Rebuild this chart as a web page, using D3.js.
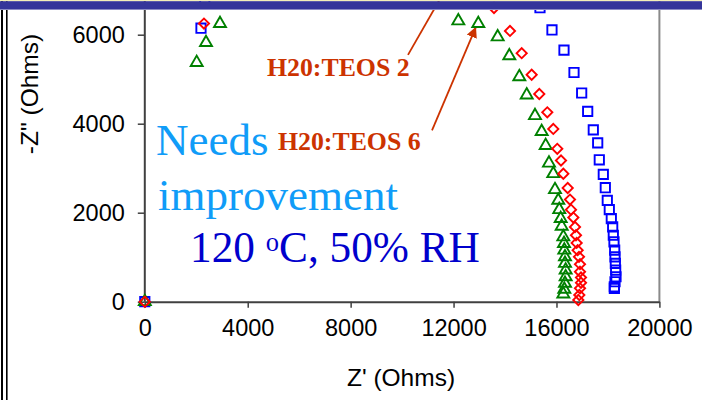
<!DOCTYPE html>
<html><head><meta charset="utf-8">
<script src="https://cdn.jsdelivr.net/npm/d3@7"></script>
<style>html,body{margin:0;padding:0;background:#fff;}svg{display:block;}</style>
</head><body>
<svg id="c" width="702" height="400"></svg>
<script>
// ---- data ----
const xTicks = [0, 4000, 8000, 12000, 16000, 20000];
const yTicks = [0, 2000, 4000, 6000];
const xLabel = "Z' (Ohms)";
const yLabel = '-Z" (Ohms)';

const blueX = [0, 2184, 2330, 15359, 15825, 16292, 16681, 16979, 17213, 17431, 17602, 17664, 17820, 17898, 17975, 18053, 18131, 18184, 18209, 18235, 18262, 18275, 18288, 18300, 18313, 18275, 18248, 18250];
const blueY = [0, 6146, 6700, 6607, 6107, 5653, 5151, 4690, 4278, 3861, 3570, 3189, 2860, 2562, 2278, 2069, 1868, 1680, 1494, 1344, 1158, 1008, 860, 710, 560, 448, 336, 300];

const redX = [0, 2300, 13572, 14193, 14648, 15036, 15332, 15643, 15876, 16031, 16176, 16266, 16436, 16525, 16564, 16655, 16720, 16758, 16784, 16823, 16875, 16914, 16914, 16953, 16953, 16914, 16888, 16849];
const redY = [0, 6249, 6600, 6085, 5585, 5100, 4667, 4255, 3883, 3435, 3174, 2876, 2555, 2294, 2069, 1890, 1680, 1494, 1321, 1158, 1008, 844, 672, 546, 426, 300, 150, 38];

const greenX = [0, 2017, 2379, 2923, 12185, 12962, 13715, 14167, 14556, 14843, 15165, 15425, 15580, 15709, 15876, 15942, 16070, 16109, 16164, 16203, 16266, 16292, 16305, 16331, 16331, 16357, 16357, 16331, 16305, 16266];
const greenY = [0, 5375, 5823, 6249, 6310, 6249, 5951, 5525, 5055, 4645, 4181, 3823, 3509, 3113, 2876, 2517, 2278, 2069, 1868, 1695, 1456, 1308, 1158, 1008, 860, 710, 560, 412, 278, 172];

const labelTeos2 = "H20:TEOS 2";
const labelTeos6 = "H20:TEOS 6";
// arrows in data coordinates [x1,y1,x2,y2]
const arrowTeos2 = [10229, 5547, 11473, 6802];
const arrowTeos6 = [11162, 3848, 12872, 6177];

// ---- drawing ----
const svg = d3.select('#c');
svg.append('rect').attr('width', 702).attr('height', 400).attr('fill', '#fff');

const x = d3.scaleLinear().domain([0, 20000]).range([144.8, 659.4]);
const y = d3.scaleLinear().domain([0, 6000]).range([301.7, 34.7]);

// left double border
svg.append('rect').attr('x', 1).attr('y', 0).attr('width', 2).attr('height', 400).attr('fill', '#000');
svg.append('rect').attr('x', 6).attr('y', 0).attr('width', 1.6).attr('height', 400).attr('fill', '#000');

// right plot border
svg.append('line').attr('x1', x(20000)).attr('x2', x(20000)).attr('y1', 0).attr('y2', y(0))
  .attr('stroke', '#8a8a8a').attr('stroke-width', 2);

const font = 'Arial, "Liberation Sans", sans-serif';
const xAxis = svg.append('g').attr('transform', `translate(0,${y(0)})`)
  .call(d3.axisBottom(x).tickValues(xTicks).tickFormat(d3.format('d')).tickSize(6).tickSizeOuter(0).tickPadding(12));
const yAxis = svg.append('g').attr('transform', `translate(${x(0)},0)`)
  .call(d3.axisLeft(y).tickValues(yTicks).tickFormat(d3.format('d')).tickSize(7).tickSizeOuter(0).tickPadding(13));
[xAxis, yAxis].forEach(g => {
  g.select('.domain').attr('stroke', '#404040').attr('stroke-width', 2);
  g.selectAll('.tick line').attr('stroke', '#404040').attr('stroke-width', 1.5);
  g.selectAll('.tick text').attr('fill', '#000').style('font-family', font).style('font-size', '23.5px');
});
// y domain extends to the top
yAxis.select('.domain').attr('d', `M0,${y(0)}V-20`);

svg.append('text').attr('x', 401).attr('y', 386).attr('text-anchor', 'middle')
  .style('font-family', font).style('font-size', '24.5px').text(xLabel);
svg.append('text').attr('transform', 'translate(38,94) rotate(-90)').attr('text-anchor', 'middle')
  .style('font-family', font).style('font-size', '24.5px').text(yLabel);

// annotations
const serif = '"Times New Roman", "Liberation Serif", serif';
svg.append('text').attr('x', 156).attr('y', 155).attr('fill', '#109cf8')
  .style('font-family', serif).style('font-size', '45px').text('Needs');
svg.append('text').attr('x', 158).attr('y', 210).attr('fill', '#109cf8')
  .style('font-family', serif).style('font-size', '45px').text('improvement');
const t3 = svg.append('text').attr('x', 190).attr('y', 261.7).attr('fill', '#0000cc')
  .style('font-family', serif).style('font-size', '43.3px');
t3.append('tspan').text('120 ');
t3.append('tspan').attr('dy', -11).style('font-size', '26.5px').text('o');
t3.append('tspan').attr('dy', 11).text('C, 50% RH');

svg.append('text').attr('x', 267).attr('y', 75.7).attr('fill', '#cc3300')
  .style('font-family', serif).style('font-size', '25.8px').style('font-weight', 'bold').text(labelTeos2);
svg.append('text').attr('x', 278).attr('y', 150).attr('fill', '#cc3300')
  .style('font-family', serif).style('font-size', '25.8px').style('font-weight', 'bold').text(labelTeos6);

const defs = svg.append('defs');
defs.append('marker').attr('id', 'ah').attr('viewBox', '0 0 10 10').attr('refX', 10).attr('refY', 5)
  .attr('markerWidth', 6).attr('markerHeight', 6).attr('markerUnits', 'strokeWidth').attr('orient', 'auto')
  .append('path').attr('d', 'M0,0L10,5L0,10z').attr('fill', '#cc3300');
svg.append('line').attr('x1', x(arrowTeos2[0])).attr('y1', y(arrowTeos2[1])).attr('x2', x(arrowTeos2[2])).attr('y2', y(arrowTeos2[3]))
  .attr('stroke', '#cc3300').attr('stroke-width', 1.8);
svg.append('line').attr('x1', x(arrowTeos6[0])).attr('y1', y(arrowTeos6[1])).attr('x2', x(arrowTeos6[2])).attr('y2', y(arrowTeos6[3]))
  .attr('stroke', '#cc3300').attr('stroke-width', 1.8).attr('marker-end', 'url(#ah)');

// series
function draw(xs, ys, color, type) {
  const pts = xs.map((v, i) => [v, ys[i]]);
  let sym;
  if (type === 'square') sym = d3.symbol().type(d3.symbolSquare).size(86)();
  else if (type === 'triangle') sym = d3.symbol().type(d3.symbolTriangle).size(62)();
  else sym = d3.symbol().type(d3.symbolSquare).size(52)();
  svg.append('g').selectAll('path').data(pts).join('path')
    .attr('d', sym)
    .attr('transform', d => `translate(${x(d[0])},${y(d[1])})` + (type === 'diamond' ? ' rotate(45)' : ''))
    .attr('fill', 'none').attr('stroke', color).attr('stroke-width', 1.9);
}
draw(blueX, blueY, '#0000ff', 'square');
draw(greenX, greenY, '#008000', 'triangle');
draw(redX, redY, '#ff0000', 'diamond');

// top bar
svg.append('rect').attr('x', 0).attr('y', 0).attr('width', 702).attr('height', 1.2).attr('fill', '#f4efb8');
svg.append('rect').attr('x', 0).attr('y', 1.2).attr('width', 702).attr('height', 7.8).attr('fill', '#35359a');
svg.append('rect').attr('x', 0).attr('y', 9).attr('width', 702).attr('height', 1).attr('fill', '#8c8cc4');
</script>
</body></html>
